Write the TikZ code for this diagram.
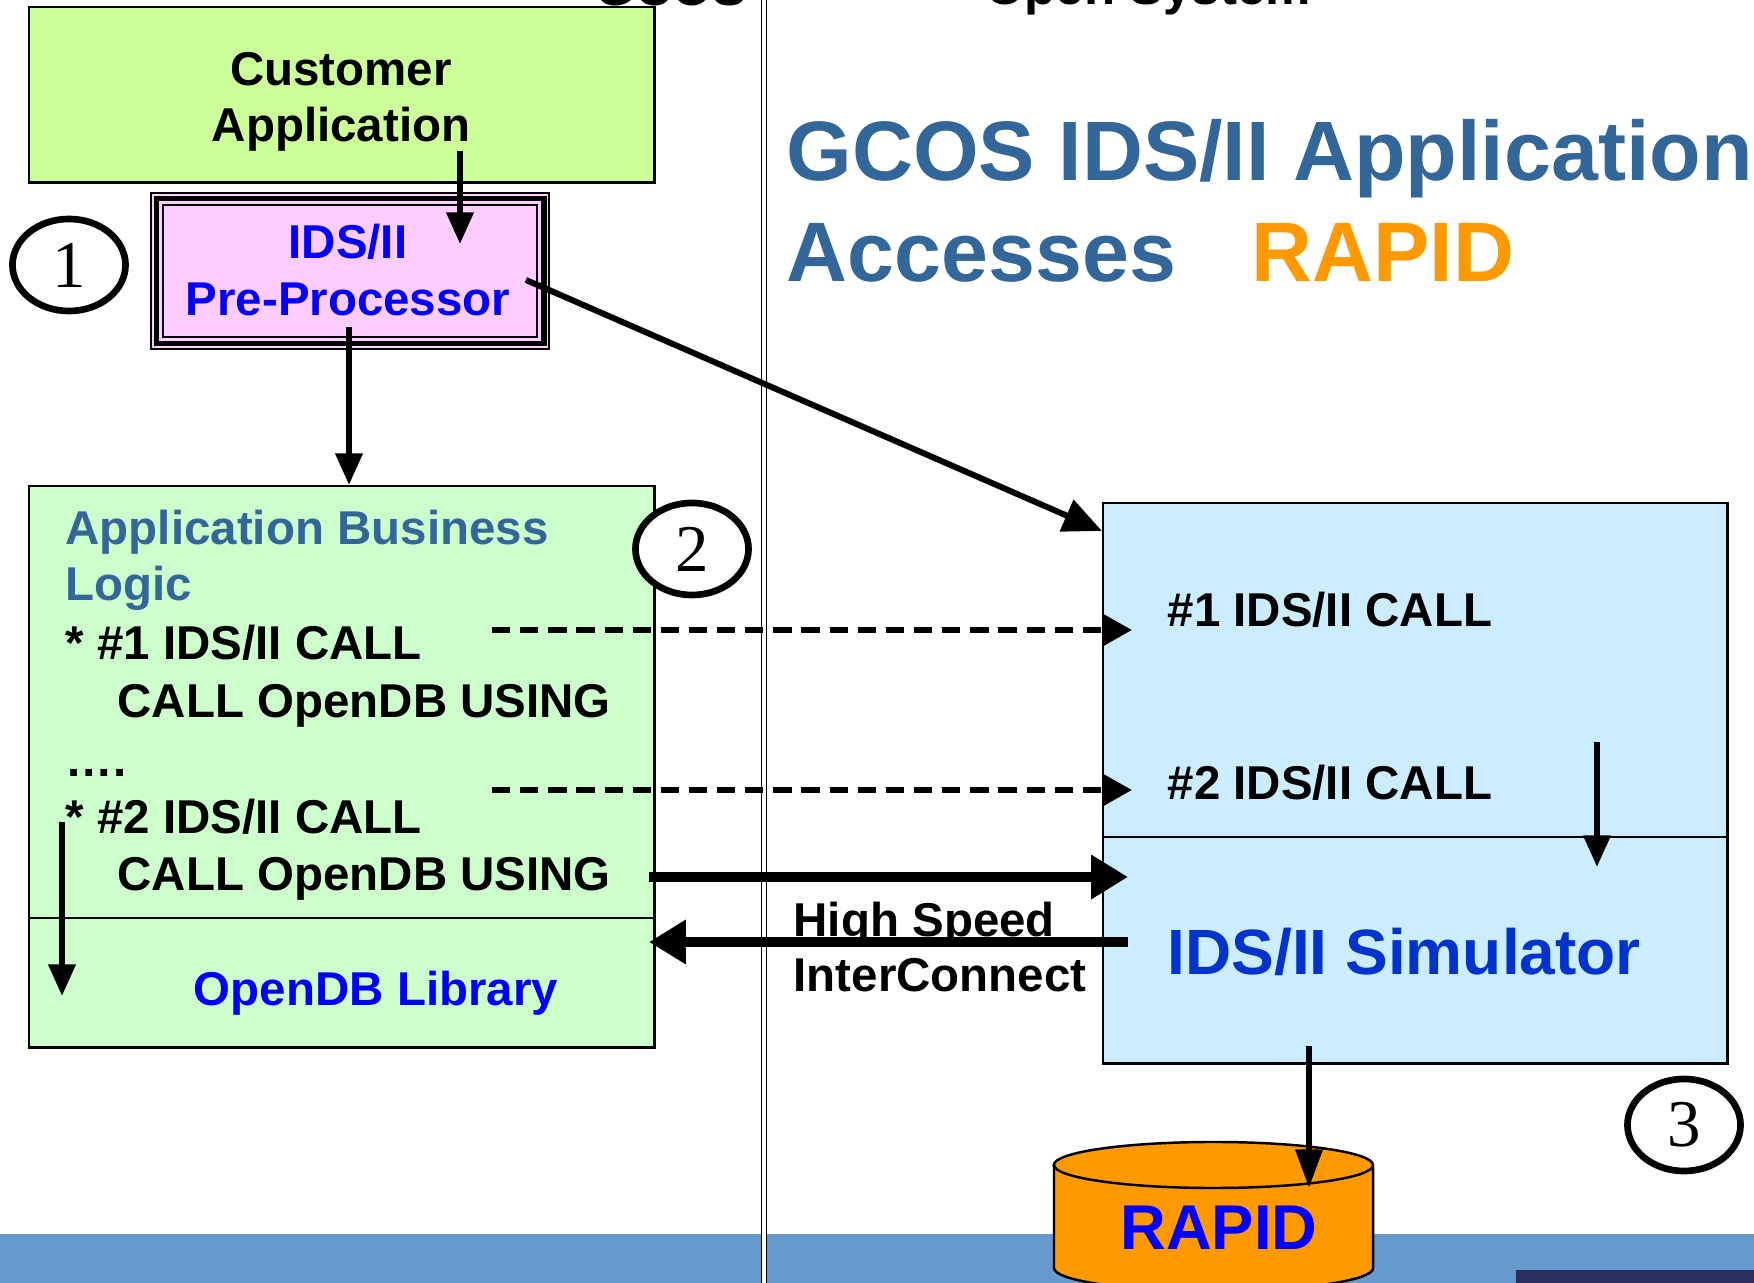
\documentclass[tikz,border=0pt]{standalone}
\usepackage{fontspec}
\setmainfont{Liberation Sans}
\newfontfamily\digitfont{Liberation Serif}
\usetikzlibrary{arrows.meta,shapes.geometric}

\definecolor{custgreen}{HTML}{CCFF99}
\definecolor{prepink}{HTML}{FFCCFF}
\definecolor{logicgreen}{HTML}{CCFFCC}
\definecolor{simblue}{HTML}{CCECFF}
\definecolor{steel}{HTML}{336699}
\definecolor{rapidorange}{HTML}{FF9900}
\definecolor{bandblue}{HTML}{6699CC}
\definecolor{navy}{HTML}{2B2F5E}
\definecolor{simtext}{HTML}{0033CC}

\tikzset{
  box/.style={draw, line width=0.7pt, anchor=north west, inner sep=0pt},
  txt/.style={font=\bfseries\fontsize{13.5}{16}\selectfont, inner sep=0pt, anchor=base west},
  head/.style={font=\bfseries\fontsize{14.5}{16}\selectfont, inner sep=0pt, anchor=base},
  title/.style={font=\bfseries\fontsize{24}{28}\selectfont, inner sep=0pt, anchor=base west},
  numcirc/.style={ellipse, draw, line width=1.9pt, fill=white, minimum width=1.13cm,
    minimum height=0.92cm, inner sep=0pt, font=\digitfont\fontsize{19}{19}\selectfont},
  arr/.style={-{Triangle[length=9pt,width=7.5pt]}, line width=1.7pt},
  bigarr/.style={-{Triangle[length=10.5pt,width=12pt]}, line width=3pt},
  dasharr/.style={-{Triangle[length=8pt,width=8.5pt]}, line width=1.6pt, dash pattern=on 5.2pt off 2.8pt}
}

\begin{document}
\begin{tikzpicture}[x=0.01cm, y=-0.01cm]
    \useasboundingbox (0,0) rectangle (1754,1283);

    % Bottom band
    \fill[bandblue] (0,1234) rectangle (1754,1283);
    \fill[navy] (1516,1270) rectangle (1754,1283);

    % Separator between GCOS and open system
    \coordinate (septop) at (764,0);
    \coordinate (sepbot) at (764,1283);
    \draw[double, double distance=0.9pt, line width=0.45pt] (septop) -- (sepbot);

    % Column headings (cut off at the top)
    \node[head] (gcos) at (671,6) {GCOS};
    \node[head] (open) at (1148,5) {Open System};

    % Title
    \node[title, text=steel] (title1) at (786,181) {GCOS IDS/II Application};
    \node[title, text=steel] (title2) at (786,282) {Accesses};
    \node[title, text=rapidorange] (title3) at (1251,282) {RAPID};

    % Boxes
    \node[box, fill=custgreen, minimum width=6.25cm, minimum height=1.75cm] (cust) at (28,6) {};
    \node[box, fill=prepink, line width=0.6pt, minimum width=3.98cm, minimum height=1.56cm] (pre) at (150,192) {};
    \draw[line width=1.5pt] ([shift={(1.8pt,-1.8pt)}]pre.north west) rectangle ([shift={(-1.8pt,1.8pt)}]pre.south east);
    \draw[line width=0.6pt] ([shift={(3.7pt,-3.7pt)}]pre.north west) rectangle ([shift={(-3.7pt,3.7pt)}]pre.south east);
    \node[box, fill=logicgreen, minimum width=6.25cm, minimum height=5.61cm] (abl) at (28,485) {};
    \node[box, fill=simblue, minimum width=6.24cm, minimum height=5.6cm] (sim) at (1102,502) {};

    % Dividers
    \coordinate (abldiv) at (0,918);
    \coordinate (simdiv) at (0,837);
    \draw[line width=0.7pt] (abl.west |- abldiv) -- (abl.east |- abldiv);
    \draw[line width=0.7pt] (sim.west |- simdiv) -- (sim.east |- simdiv);

    % Database
    \draw[fill=rapidorange, line width=0.7pt] (1054,1165) -- (1054,1268)
        arc[start angle=180, end angle=360, x radius=1.595cm, y radius=0.23cm] -- (1373,1165)
        arc[start angle=0, end angle=180, x radius=1.595cm, y radius=0.23cm] -- cycle;
    \draw[line width=0.7pt] (1054,1165) arc[start angle=180, end angle=360, x radius=1.595cm, y radius=0.23cm];
    \node[font=\bfseries\fontsize{18}{20}\selectfont, text=blue, inner sep=0pt] (rapid) at (1219,1228) {RAPID};

    % Box texts
    \node[txt, anchor=base] (custl1) at (341,86) {Customer};
    \node[txt, anchor=base] (custl2) at (341,142) {Application};
    \node[txt, anchor=base, text=blue] (prel1) at (348,259) {IDS/II};
    \node[txt, anchor=base, text=blue] (prel2) at (348,316) {Pre-Processor};
    \node[txt, text=steel] (logic1) at (65,545) {Application Business};
    \node[txt, text=steel] (logic2) at (65,601) {Logic};
    \foreach \ln/\yy/\xx [count=\i from 3] in {{* \#1 IDS/II CALL}/660/65, {CALL OpenDB USING}/718/117,
        {….}/777/65, {* \#2 IDS/II CALL}/834/65, {CALL OpenDB USING}/891/117}
        \node[txt] (logic\i) at (\xx,\yy) {\ln};
    \node[txt, anchor=base, text=blue] (lib) at (376,1006) {OpenDB Library};
    \node[txt] (call1) at (1167,627) {\#1 IDS/II CALL};
    \node[txt] (call2) at (1167,800) {\#2 IDS/II CALL};
    \node[txt, font=\bfseries\fontsize{18.2}{20}\selectfont, text=simtext] (simname) at (1167,975) {IDS/II Simulator};
    \node[txt] (hs1) at (793,937) {High Speed};
    \node[txt] (hs2) at (793,992) {InterConnect};

    % Arrow ends
    \coordinate (ca1) at (460,151);
    \coordinate (ca2) at (460,244);
    \coordinate (pp1) at (349,327);
    \coordinate (pp2) at (526,280);
    \coordinate (si1) at (1102,531);
    \coordinate (d1a) at (492,630);
    \coordinate (d1b) at (1132,630);
    \coordinate (d2a) at (492,790);
    \coordinate (d2b) at (1132,790);
    \coordinate (h1a) at (649,877);
    \coordinate (h1b) at (1128,877);
    \coordinate (h2a) at (1128,942);
    \coordinate (h2b) at (649,942);
    \coordinate (lv1) at (62,822);
    \coordinate (lv2) at (62,996);
    \coordinate (rv1) at (1597,742);
    \coordinate (rv2) at (1597,867);
    \coordinate (cy1) at (1309,1046);
    \coordinate (cy2) at (1309,1188);

    % Arrows
    \draw[arr] (ca1) -- (ca2);
    \draw[arr] (pp1) -- (pp1 |- abl.north);
    \draw[arr, -{Triangle[length=11pt,width=9.5pt]}] (pp2) -- (si1);
    \draw[dasharr] (d1a) -- (d1b);
    \draw[dasharr] (d2a) -- (d2b);
    \draw[bigarr] (h1a) -- (h1b);
    \draw[bigarr] (h2a) -- (h2b);
    \draw[arr] (lv1) -- (lv2);
    \draw[arr] (rv1) -- (rv2);
    \draw[arr, -{Triangle[length=11pt,width=7.5pt]}] (cy1) -- (cy2);

    % Step numbers
    \node[numcirc] (c1) at (69,265) {1};
    \node[numcirc] (c2) at (692,549) {2};
    \node[numcirc] (c3) at (1684,1125) {3};
\end{tikzpicture}
\end{document}
